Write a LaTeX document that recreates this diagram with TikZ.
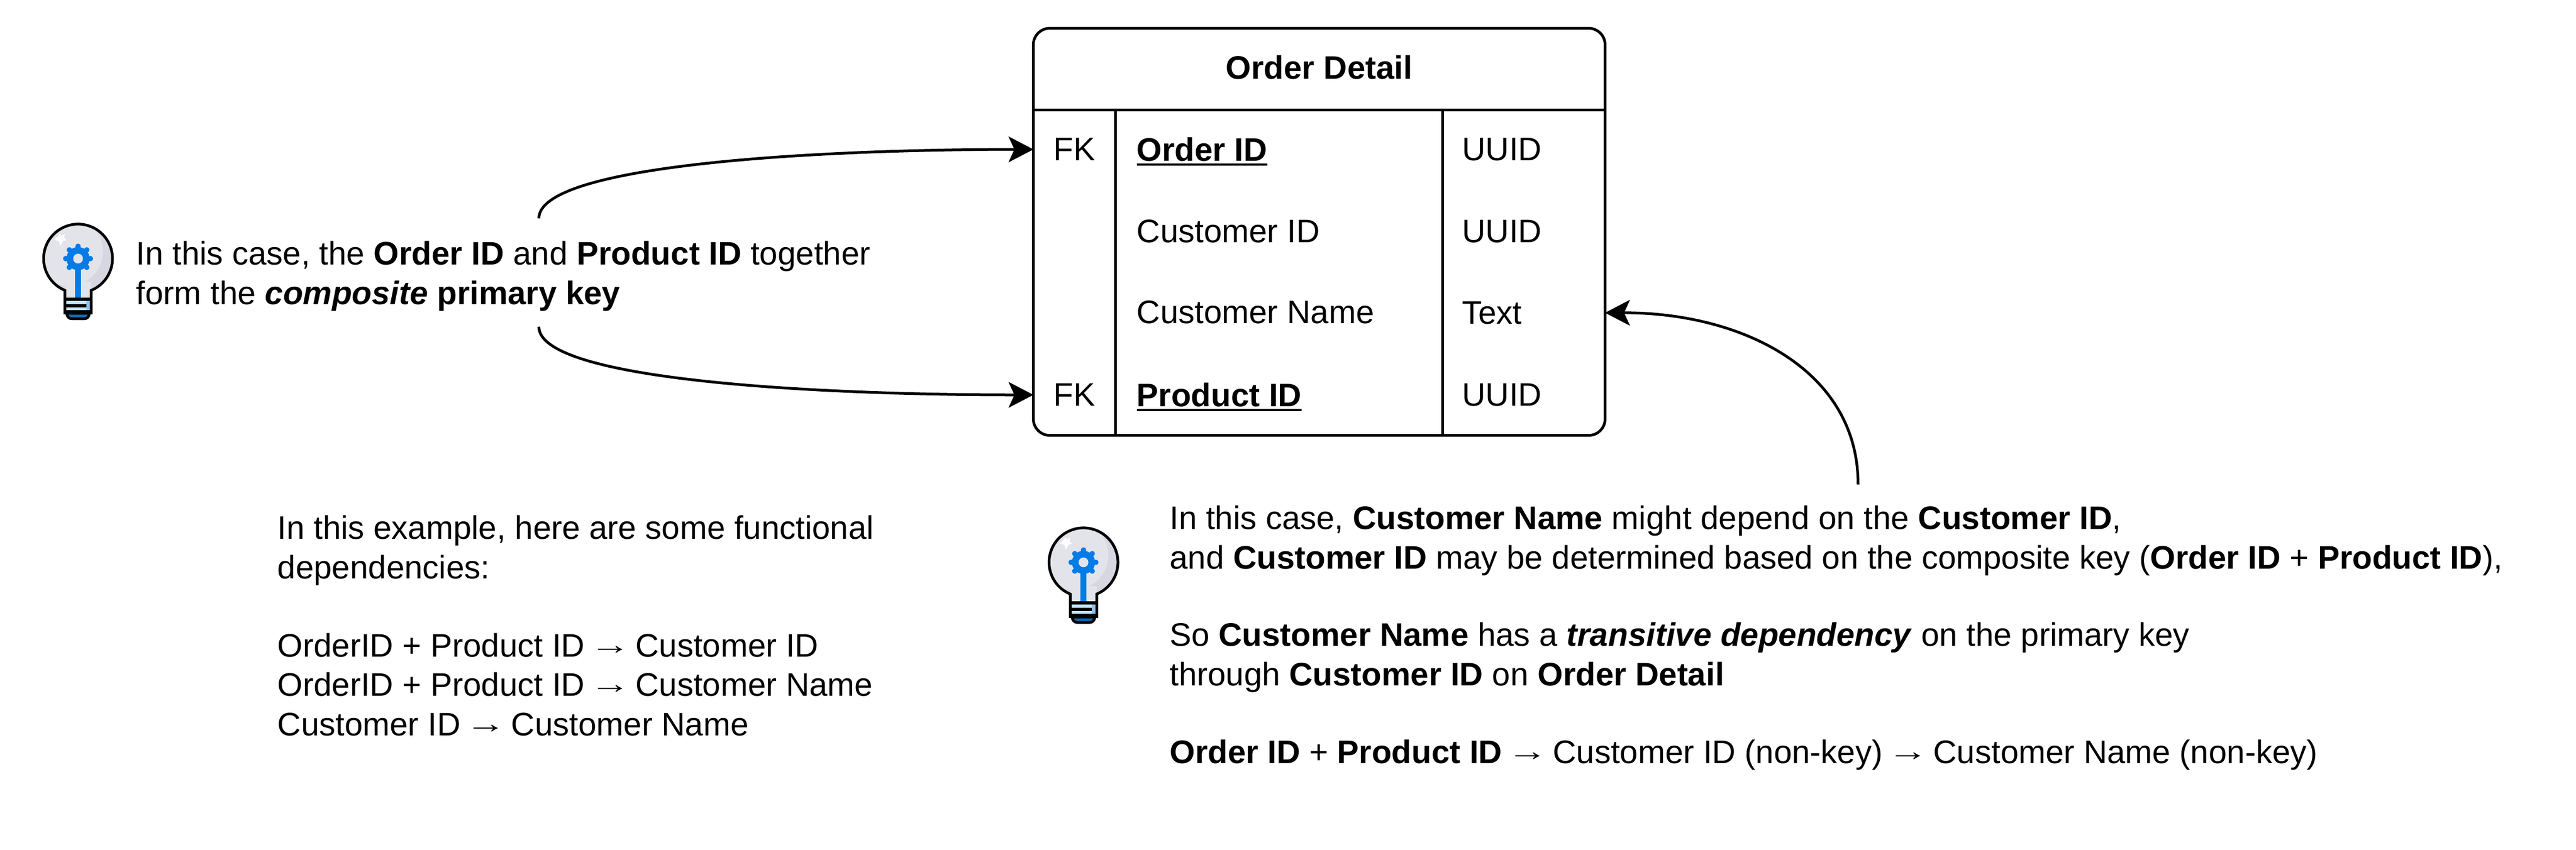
\documentclass[tikz,border=0pt]{standalone}
\usepackage{fontspec}
\usepackage{graphicx}
\setmainfont{Liberation Sans}
\usetikzlibrary{arrows.meta}
\definecolor{glass}{HTML}{E3E4EA}
\definecolor{glassshade}{HTML}{D6D7E0}
\definecolor{gearblue}{HTML}{047BE6}
\definecolor{baselight}{HTML}{C5E5FB}
\definecolor{baseshade}{HTML}{8FC0EA}
\definecolor{capblue}{HTML}{0F6CB5}
\newcommand\keyname[1]{\setbox0=\hbox{\textbf{#1}}\rlap{\smash{\rule[-1.7pt]{\wd0}{0.75pt}}}\box0}
\newcommand\longarrow{\makebox[1em][c]{\raisebox{1pt}{\scalebox{1.25}[0.85]{→}}}}
\tikzset{
  x=0.6046pt,y=-0.6046pt,
  rulerline/.style={draw=black,line width=1pt},
  body/.style={font=\fontsize{12}{14.55}\selectfont,inner sep=0pt,outer sep=0pt,align=left,anchor=north west},
  cell/.style={font=\fontsize{12}{14.55}\selectfont,inner sep=0pt,outer sep=0pt,anchor=west},
  fkcell/.style={font=\fontsize{12}{14.55}\selectfont,inner sep=0pt,outer sep=0pt,minimum width=30.2pt,minimum height=30pt},
  link/.style={draw=black,line width=1pt,-{Stealth[length=9.2pt,width=9.6pt,inset=2.2pt,line width=0pt]}},
  tablebox/.style={draw=black,line width=1pt,rounded corners=6pt,minimum width=210.4pt,minimum height=149.9pt,inner sep=0pt,outer sep=0pt},
  pics/bulb/.style={code={
    \begin{scope}[x=0.0667pt,y=0.0667pt,shift={(-150,55)}]
      \begin{scope}
        \clip (272,-425) arc[start angle=247.4,end angle=-67.4,radius=190] -- (418,-550) -- (272,-550) -- cycle;
        \fill[glassshade] (100,0) rectangle (600,-600);
        \fill[glass] (290,-210) circle[radius=192];
        \fill[glass] (272,-380) rectangle (418,-470);
      \end{scope}
      \fill[gearblue] (328,-290) rectangle (362,-470);
      \fill[gearblue] (345,-250) circle[radius=64];
      \foreach \a in {0,45,...,315}{\fill[gearblue] (345,-250) ++(\a:68) circle[radius=15];}
      \fill[glass] (345,-250) circle[radius=27];
      \fill[white] (245,-112) -- (255,-125) -- (272,-112) -- (268,-135) -- (282,-148) -- (262,-152) -- (248,-180) -- (240,-155) -- (215,-145) -- (232,-130) -- cycle;
      \fill[baselight] (272,-465) rectangle (418,-550);
      \fill[baseshade] (392,-482) rectangle (410,-535);
      \fill[black] (272,-465) rectangle (418,-484);
      \fill[black] (272,-500) rectangle (390,-518);
      \fill[black] (272,-535) rectangle (418,-552);
      \path[fill=capblue,draw=black,line width=1pt] (282,-552) -- (408,-552) .. controls (405,-572) and (395,-582) .. (378,-582) -- (312,-582) .. controls (295,-582) and (285,-572) .. (282,-552) -- cycle;
      \draw[black,line width=1pt] (272,-425) arc[start angle=247.4,end angle=-67.4,radius=190] -- (418,-550) -- (272,-550) -- cycle;
    \end{scope}
  }}
}
\begin{document}
\begin{tikzpicture}
\useasboundingbox (0,0) rectangle (1568,517.7);

% table
\node[tablebox] (tbl) at (803,141.2) {};
\node[font=\fontsize{12}{14.55}\selectfont\bfseries,inner sep=0pt] (title) at (803,41) {Order Detail};
\coordinate (hl) at (629,67);
\coordinate (hr) at (977,67);
\coordinate (ca) at (679,67);
\coordinate (cb) at (878,67);
\draw[rulerline] (hl) -- (hr);
\draw[rulerline] (ca) -- (ca |- tbl.south);
\draw[rulerline] (cb) -- (cb |- tbl.south);

\node[fkcell] (fk1) at (654,91) {FK};
\node[fkcell] (fk2) at (654,240.5) {FK};
\node[cell] (n1) at (692,91) {\keyname{Order ID}};
\node[cell] (n2) at (692,141) {Customer ID};
\node[cell] (n3) at (692,190) {Customer Name};
\node[cell] (n4) at (692,240.5) {\keyname{Product ID}};
\node[cell] (t1) at (890,91) {UUID};
\node[cell] (t2) at (890,141) {UUID};
\node[cell] (t3) at (890,190.5) {Text};
\node[cell] (t4) at (890,240.5) {UUID};

% bulbs
\pic at (26,136) {bulb};
\pic at (638,321) {bulb};

% texts
\node[body] (note1) at (83,147) {In this case, the \textbf{Order ID} and \textbf{Product ID} together\\form the \textbf{\textit{composite} primary key}};
\node[body] (note2) at (169,314) {In this example, here are some functional\\dependencies:\\[14.2pt]OrderID + Product ID \longarrow{} Customer ID\\OrderID + Product ID \longarrow{} Customer Name\\Customer ID \longarrow{} Customer Name};
\node[body] (note3) at (712,308) {In this case, \textbf{Customer Name} might depend on the \textbf{Customer ID},\\and \textbf{Customer ID} may be determined based on the composite key (\textbf{Order ID} + \textbf{Product ID}),\\[13.95pt]So \textbf{Customer Name} has a \textbf{\textit{transitive dependency}} on the primary key\\through \textbf{Customer ID} on \textbf{Order Detail}\\[13.95pt]\textbf{Order ID} + \textbf{Product ID} \longarrow{} Customer ID (non-key) \longarrow{} Customer Name (non-key)};

% connectors
\coordinate (s1) at (328,133);
\coordinate (s2) at (328,199);
\coordinate (s3) at (1131,295);
\draw[link] (s1) .. controls +(0,-33) and +(-129,0) .. (fk1.west);
\draw[link] (s2) .. controls +(0,33) and +(-129,0) .. (fk2.west);
\draw[link] (s3) .. controls +(0,-70) and +(83,0) .. (tbl.east |- t3.center);
\end{tikzpicture}
\end{document}
